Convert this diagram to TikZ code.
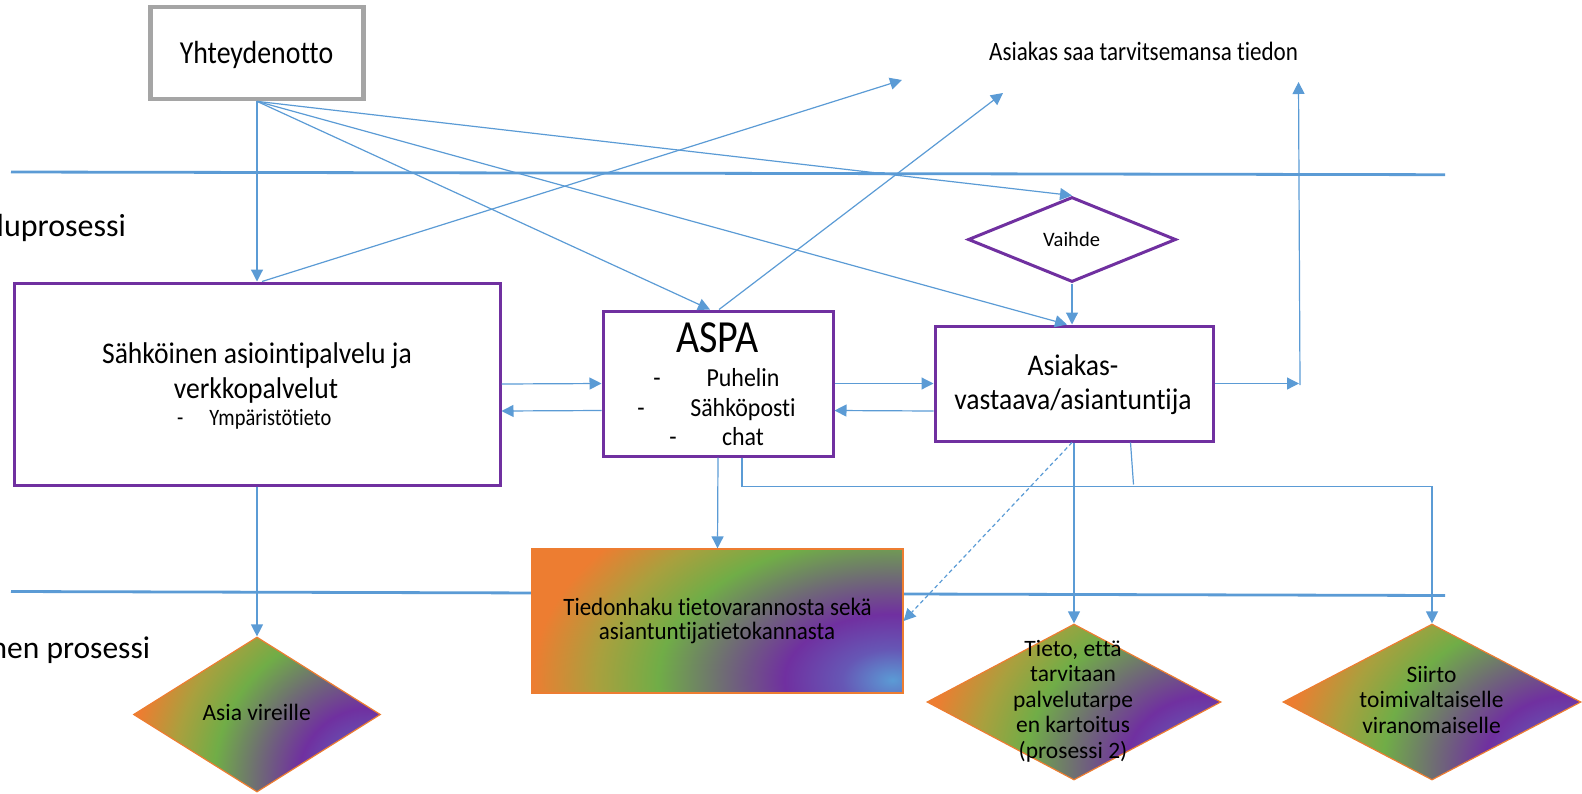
\documentclass[tikz,border=0pt]{standalone}
\usepackage{fontspec}
\setmainfont{Carlito}[Ligatures={NoCommon,NoContextual}]
\newfontfamily\cfont{Carlito}[FakeStretch=0.87,Ligatures={NoCommon,NoContextual}]
\newfontfamily\dfont{Carlito}[FakeStretch=0.92,Ligatures={NoCommon,NoContextual}]
\usetikzlibrary{arrows.meta,shapes.geometric,calc}
\definecolor{sblue}{HTML}{5B9BD5}
\definecolor{sbp}{HTML}{6657B5}
\definecolor{spurple}{HTML}{7030A0}
\definecolor{sgray}{HTML}{6F6F72}
\definecolor{sgreen}{HTML}{70AD47}
\definecolor{solive}{HTML}{A9A03E}
\definecolor{sorange}{HTML}{ED7D31}
\definecolor{sgrey}{HTML}{A5A5A5}
\pgfdeclareradialshading{rainbowr}{\pgfpointorigin}{color(0bp)=(sblue); color(3.5bp)=(sbp); color(7.5bp)=(spurple); color(12bp)=(sgray); color(16.25bp)=(sgreen); color(20.5bp)=(solive); color(25bp)=(sorange); color(50bp)=(sorange)}
\newcommand\myfs[1]{\fontsize{#1pt}{#1pt}\selectfont}
\begin{document}
\begin{tikzpicture}[x=1pt,y=-1pt,
  lane/.style={draw=sblue, line width=2.8pt},
  conn/.style={draw=sblue, line width=1.2pt, -{Triangle[length=12pt,width=12pt]}},
  plain/.style={draw=sblue, line width=1.2pt},
  lbl/.style={inner sep=0pt, anchor=base, text=black},
  greybox/.style={rectangle, draw=sgrey, line width=4.3pt, fill=white, inner sep=0pt},
  pbox/.style={rectangle, draw=spurple, line width=3pt, fill=white, inner sep=0pt},
  pdiam/.style={diamond, draw=spurple, line width=3pt, fill=white, inner sep=0pt},
  rainbow/.style 2 args={path picture={\path[shading=rainbowr] ([shift={({-10-#1},{-13-#2})}]path picture bounding box.south east) rectangle ([shift={({-10+#1},{-13+#2})}]path picture bounding box.south east);}},
  rbox/.style={rectangle, draw=sorange, line width=1.2pt, inner sep=0pt},
  rdiam/.style={diamond, draw=sorange, line width=1.2pt, inner sep=0pt},
  bigtxt/.style={font=\dfont\myfs{30}},
  smalltxt/.style={font=\myfs{23.5}},
  itemtxt/.style={font=\dfont\myfs{26}}
]
\useasboundingbox (0,0) rectangle (1582,793);
% lane separators
\draw[lane] (11,172) -- (1445,174.7);
\draw[lane] (11,591.5) -- (1445,595.5);

% boxes
\node[greybox, minimum width=213pt, minimum height=92.4pt] (yht) at (257,53) {};
\node[pbox, minimum width=486pt, minimum height=202pt] (sahko) at (257,384) {};
\node[pbox, minimum width=230pt, minimum height=145pt] (aspa) at (718,383.5) {};
\node[pbox, minimum width=278pt, minimum height=115pt] (asiak) at (1074,383.5) {};
\node[pdiam, minimum width=208pt, minimum height=85pt] (vaihde) at (1072,239.5) {};
\node[rbox, minimum width=371pt, minimum height=144pt, rainbow={360}{220}] (tied) at (717.5,621) {};
\node[rdiam, minimum width=247pt, minimum height=155pt, rainbow={240}{237}] (asia) at (257,714.5) {};
\node[rdiam, minimum width=294pt, minimum height=156pt, rainbow={285}{239}] (tieto) at (1074,702) {};
\node[rdiam, minimum width=298pt, minimum height=156pt, rainbow={289}{239}] (siirto) at (1432,702) {};

% texts
\node[lbl, font=\cfont\myfs{32}] (yhtt) at (256.5,63.3) {Yhteydenotto};
\node[lbl, anchor=base west, font=\cfont\myfs{26.5}] (tiedon) at (989,60.7) {Asiakas saa tarvitsemansa tiedon};
\node[lbl, anchor=base west, font=\myfs{32}] (lane1) at (-3.5,236.7) {luprosessi};
\node[lbl, anchor=base west, font=\myfs{31.5}] (lane2) at (-9.5,658.3) {nen prosessi};

\node[lbl, bigtxt] (s1) at (257,363.3) {Sähköinen asiointipalvelu ja};
\node[lbl, bigtxt] (s2) at (256,398.3) {verkkopalvelut};
\node[lbl, anchor=base west, font=\cfont\myfs{23.5}] (s3) at (177,425) {-\hspace{26pt}Ympäristötieto};

\node[lbl, font=\cfont\myfs{46}] (a0) at (717.5,352.7) {ASPA};
\node[lbl, itemtxt] (a1) at (743,386.7) {Puhelin};
\node[lbl, itemtxt] (a2) at (743,416.7) {Sähköposti};
\node[lbl, itemtxt] (a3) at (743,445.5) {chat};
\node[lbl, itemtxt] (d1) at (657,386.7) {-};
\node[lbl, itemtxt] (d2) at (641,416.7) {-};
\node[lbl, itemtxt] (d3) at (673,445.5) {-};

\node[lbl, bigtxt] (k1) at (1073,375) {Asiakas-};
\node[lbl, bigtxt] (k2) at (1073,409) {vastaava/asiantuntija};

\node[lbl, font=\myfs{20.5}] (v1) at (1071.6,246.7) {Vaihde};

\node[lbl, font=\dfont\myfs{25}] (h1) at (717.5,615) {Tiedonhaku tietovarannosta sekä};
\node[lbl, font=\dfont\myfs{25}] (h2) at (717,639.3) {asiantuntijatietokannasta};

\node[lbl, smalltxt] (av) at (256.7,720) {Asia vireille};

\node[lbl, smalltxt] (p1) at (1073,656.7) {Tieto, että};
\node[lbl, smalltxt] (p2) at (1073,681.7) {tarvitaan};
\node[lbl, smalltxt] (p3) at (1073,707.3) {palvelutarpe};
\node[lbl, smalltxt] (p4) at (1073,732.3) {en kartoitus};
\node[lbl, smalltxt] (p5) at (1073,758.3) {(prosessi 2)};

\node[lbl, smalltxt] (r1) at (1431.5,682.7) {Siirto};
\node[lbl, smalltxt] (r2) at (1431.5,707.3) {toimivaltaiselle};
\node[lbl, smalltxt] (r3) at (1431.5,733.3) {viranomaiselle};

% free ends
\coordinate (t1) at (902,80);
\coordinate (t2) at (1003,93);
\coordinate (t3) at (1299,383.5);
\coordinate (t4) at (1300,385);
\coordinate (t5) at (1298.5,82);

% connectors
\draw[conn] (yht.south) -- (yht.south |- sahko.north);
\draw[conn] (yht.south) -- ([xshift=-8pt]aspa.north);
\draw[conn] (yht.south) -- ([xshift=-7pt]asiak.north);
\draw[conn] (yht.south) -- (vaihde.north);
\draw[conn] (vaihde.south) -- (vaihde.south |- asiak.north);
\draw[conn] ([xshift=5pt]sahko.north) -- (t1);
\draw[conn] ([xshift=1pt]aspa.north) -- (t2);
\draw[conn] (asiak.east) -- (t3);
\draw[conn] (t4) -- (t5);
\draw[conn] (sahko.east) -- (aspa.west);
\draw[conn] ([yshift=-27pt]aspa.west) -- ([yshift=-27pt]sahko.east);
\draw[conn] (aspa.east) -- (asiak.west);
\draw[conn] ([yshift=-27.5pt]asiak.west) -- ([yshift=-27pt]aspa.east);
\draw[conn] (aspa.south) -- (tied.north);
\draw[conn] ([xshift=24pt]aspa.south) -- ++(0,29) -| (siirto.north);
\draw[plain] ([xshift=56.5pt]asiak.south) -- ++(3,42);
\draw[conn] (asiak.south) -- (tieto.north);
\draw[conn, dash pattern=on 4pt off 3pt] ([xshift=-2pt]asiak.south) -- (tied.east);
\draw[conn] (sahko.south) -- (asia.north);
\end{tikzpicture}
\end{document}
